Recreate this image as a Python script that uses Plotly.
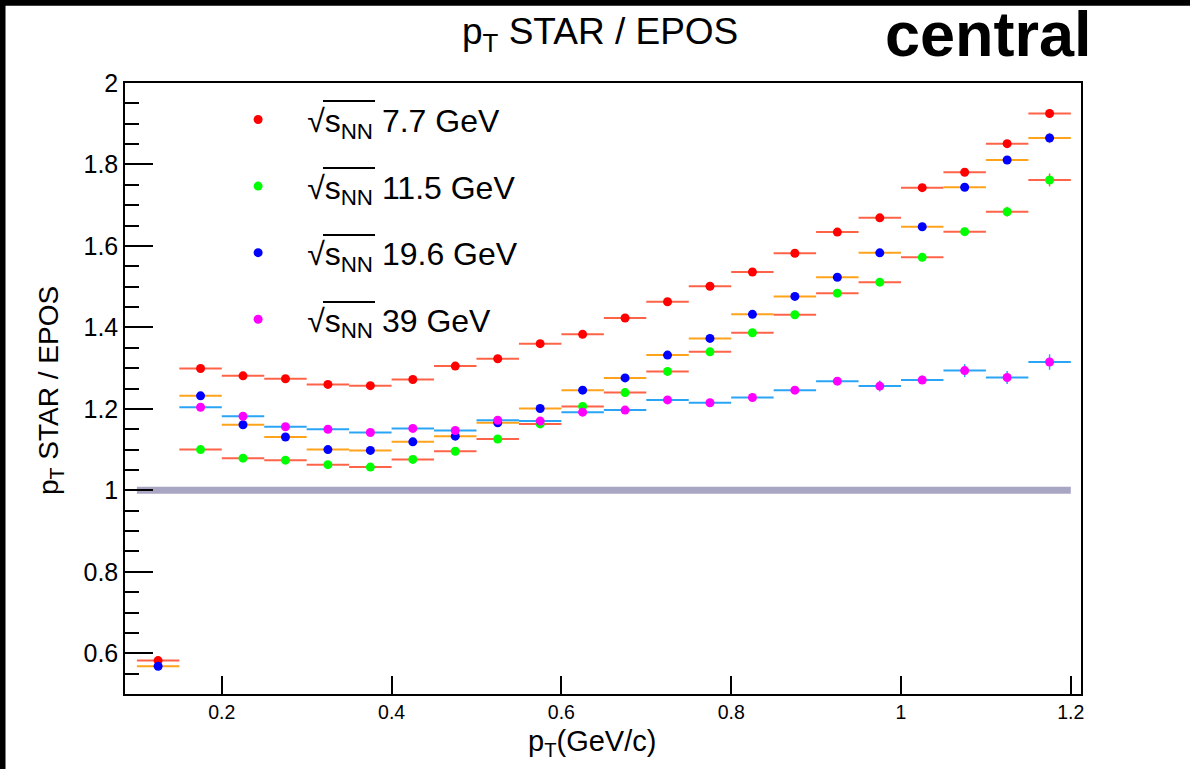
import plotly.graph_objects as go

# pT bin centres (GeV/c), bin half-width
pt = [0.125, 0.175, 0.225, 0.275, 0.325, 0.375, 0.425, 0.475, 0.525, 0.575, 0.625,
      0.675, 0.725, 0.775, 0.825, 0.875, 0.925, 0.975, 1.025, 1.075, 1.125, 1.175]
half_width = 0.025

# STAR / EPOS ratio per beam energy
ratio_7p7 = [0.582, 1.299, 1.281, 1.274, 1.260, 1.257, 1.272, 1.305, 1.323, 1.360, 1.383,
             1.423, 1.463, 1.501, 1.536, 1.582, 1.634, 1.669, 1.743, 1.781, 1.851, 1.925]
ratio_11p5 = [None, 1.100, 1.079, 1.074, 1.063, 1.057, 1.076, 1.096, 1.126, 1.163, 1.206,
              1.240, 1.292, 1.340, 1.387, 1.431, 1.484, 1.511, 1.572, 1.635, 1.684, 1.762]
ratio_19p6 = [0.568, 1.232, 1.161, 1.131, 1.100, 1.098, 1.119, 1.133, 1.166, 1.201, 1.246,
              1.276, 1.332, 1.373, 1.432, 1.476, 1.523, 1.583, 1.647, 1.744, 1.811, 1.865]
ratio_39 = [None, 1.204, 1.182, 1.156, 1.150, 1.142, 1.152, 1.147, 1.172, 1.170, 1.192,
            1.197, 1.222, 1.215, 1.228, 1.246, 1.268, 1.256, 1.271, 1.294, 1.277, 1.315]

# statistical errors on the ratio
err_7p7 = [0.004] * 17 + [0.006, 0.007, 0.008, 0.009, 0.011]
err_11p5 = [0.004] * 17 + [0.007, 0.008, 0.010, 0.012, 0.016]
err_19p6 = [0.004] * 17 + [0.006, 0.008, 0.009, 0.010, 0.013]
err_39 = [0.004] * 16 + [0.008, 0.0135, 0.010, 0.016, 0.016, 0.019]

energies = ["7.7", "11.5", "19.6", "39"]

unity_x = [0.1, 1.2]
unity_y = [1.0, 1.0]

FONT = "Liberation Sans, Arial, Helvetica, sans-serif"

W, H = 1190, 769
M_L, M_R, M_T, M_B = 125, 109, 83, 75


def px_to_paper(px, py):
    """Convert canvas pixel position to paper coordinates."""
    return ((px - M_L) / (W - M_L - M_R), (H - M_B - py) / (H - M_T - M_B))


series = [
    (ratio_7p7, err_7p7, "#ff0000", "#ff6347"),
    (ratio_11p5, err_11p5, "#00ff00", "#ff6347"),
    (ratio_19p6, err_19p6, "#0000ff", "#ffa31a"),
    (ratio_39, err_39, "#ff00ff", "#2aa5f5"),
]

fig = go.Figure()

fig.add_trace(go.Scatter(
    x=unity_x, y=unity_y, mode="lines",
    line=dict(color="#a9a6c4", width=7),
    showlegend=False, hoverinfo="skip",
))

for (vals, errs, mcol, ecol), energy in zip(series, energies):
    label = "√s<sub>NN</sub> " + energy + " GeV"
    fig.add_trace(go.Scatter(
        x=pt, y=vals, mode="markers", name=label, legendgroup=energy,
        marker=dict(color=mcol, size=9, line=dict(width=0)),
        error_x=dict(type="constant", value=half_width, color=ecol,
                     thickness=2, width=0),
        error_y=dict(type="data", array=errs, color=ecol,
                     thickness=1.5, width=0),
    ))

fig.update_layout(
    width=W, height=H,
    margin=dict(l=M_L, r=M_R, t=M_T, b=M_B),
    paper_bgcolor="white", plot_bgcolor="white",
    font=dict(family=FONT, color="black"),
    showlegend=True,
    legend=dict(
        x=0.088, y=0.985, xanchor="left", yanchor="top",
        font=dict(family=FONT, size=32, color="black"),
        bgcolor="rgba(0,0,0,0)", itemwidth=88,
        tracegroupgap=22, itemclick=False,
    ),
    xaxis=dict(
        range=[0.086, 1.212], tickvals=[0.2, 0.4, 0.6, 0.8, 1.0, 1.2],
        ticktext=["0.2", "0.4", "0.6", "0.8", "1", "1.2"],
        ticks="inside", ticklen=18, tickwidth=1.5, tickcolor="black",
        showline=True, linecolor="black", linewidth=1.5, mirror=True,
        showgrid=False, zeroline=False,
        tickfont=dict(family=FONT, size=19.5, color="black"),
    ),
    yaxis=dict(
        range=[0.5, 2.0], tickvals=[0.6, 0.8, 1.0, 1.2, 1.4, 1.6, 1.8, 2.0],
        ticktext=["0.6", "0.8", "1", "1.2", "1.4", "1.6", "1.8", "2"],
        ticks="inside", ticklen=28, tickwidth=1.5, tickcolor="black",
        minor=dict(ticks="inside", ticklen=14, dtick=0.05, tick0=0.5,
                   tickcolor="black", tickwidth=1.5, showgrid=False),
        showline=True, linecolor="black", linewidth=1.5, mirror=True,
        showgrid=False, zeroline=False,
        tickfont=dict(family=FONT, size=25, color="black"),
    ),
)

fig.add_annotation(
    text="p<sub>T</sub> STAR / EPOS", xref="paper", yref="paper",
    x=0.497, y=1.08, xanchor="center", yanchor="middle", showarrow=False,
    font=dict(family=FONT, size=37, color="black"),
)
fig.add_annotation(
    text="<b>central</b>", xref="paper", yref="paper",
    x=0.903, y=1.08, xanchor="center", yanchor="middle", showarrow=False,
    font=dict(family=FONT, size=63, color="black"),
)
fig.add_annotation(
    text="p<sub>T</sub>(GeV/c)", xref="paper", yref="paper",
    x=0.489, y=-0.0795, xanchor="center", yanchor="middle", showarrow=False,
    font=dict(family=FONT, size=29, color="black"),
)
fig.add_annotation(
    text="p<sub>T</sub> STAR / EPOS", xref="paper", yref="paper",
    x=-0.0785, y=0.4975, xanchor="center", yanchor="middle", showarrow=False,
    textangle=-90, font=dict(family=FONT, size=28, color="black"),
)

# radical bar over s_NN in each legend label
for bar_y in [101, 168, 235, 302]:
    x0, y0 = px_to_paper(323, bar_y)
    x1, _ = px_to_paper(375, bar_y)
    fig.add_shape(type="line", xref="paper", yref="paper",
                  x0=x0, x1=x1, y0=y0, y1=y0,
                  line=dict(color="black", width=2), layer="above")

# dark frame strips along the top and left edges of the canvas
fig.add_shape(type="rect", xref="paper", yref="paper",
              x0=-0.14, x1=1.12, y0=1.1265, y1=1.14,
              fillcolor="black", line=dict(width=0), layer="above")
fig.add_shape(type="rect", xref="paper", yref="paper",
              x0=-0.14, x1=-0.1250, y0=-0.13, y1=1.14,
              fillcolor="black", line=dict(width=0), layer="above")

fig.write_html("out.html")
